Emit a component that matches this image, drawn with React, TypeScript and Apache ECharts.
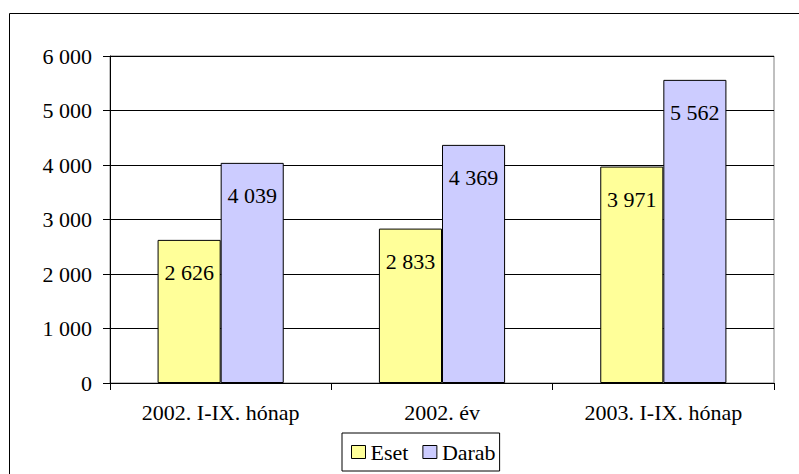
import React, { useEffect, useRef } from "react";
import * as echarts from "echarts";

const categories = ["2002. I-IX. hónap", "2002. év", "2003. I-IX. hónap"];
const eset = [2626, 2833, 3971];
const darab = [4039, 4369, 5562];
const seriesNames = ["Eset", "Darab"];

const fmt = (v: number) => {
  const s = String(Math.round(v));
  return s.replace(/\B(?=(\d{3})+(?!\d))/g, " ");
};

const FONT = "Liberation Serif";
const FS = 22;

export default function App() {
  const ref = useRef<HTMLDivElement>(null);
  useEffect(() => {
    if (!ref.current) return;
    const chart = echarts.init(ref.current, null, { renderer: "svg" });
    const label = {
      show: true,
      position: "insideTop" as const,
      distance: 22,
      color: "#000",
      fontSize: FS,
      fontFamily: FONT,
      formatter: (p: any) => fmt(p.value),
    };
    chart.setOption({
      animation: false,
      backgroundColor: "#fff",
      textStyle: { fontFamily: FONT },
      graphic: [
        {
          type: "rect",
          shape: { x: 9.5, y: 13.5, width: 820, height: 520 },
          style: { fill: "none", stroke: "#000", lineWidth: 1 },
          silent: true,
        },
      ],
      grid: {
        left: 110,
        right: 25,
        top: 56,
        bottom: 91,
        show: true,
        borderColor: "#808080",
        borderWidth: 1,
      },
      legend: {
        data: seriesNames,
        left: 342,
        top: 433,
        orient: "horizontal",
        itemWidth: 14,
        itemHeight: 13,
        itemGap: 14,
        borderColor: "#000",
        borderWidth: 1,
        padding: [8, 4, 8, 9],
        icon: "rect",
        textStyle: { fontSize: FS, color: "#000", fontFamily: FONT },
        itemStyle: { borderColor: "#000", borderWidth: 1 },
      },
      xAxis: {
        type: "category",
        data: categories,
        axisLine: { lineStyle: { color: "#000", width: 1 } },
        axisTick: { show: true, length: 7, lineStyle: { color: "#000" } },
        axisLabel: { color: "#000", fontSize: FS, fontFamily: FONT, margin: 18 },
      },
      yAxis: {
        type: "value",
        min: 0,
        max: 6000,
        interval: 1000,
        axisLine: { show: true, lineStyle: { color: "#000", width: 1 } },
        axisTick: { show: true, length: 7, lineStyle: { color: "#000" } },
        axisLabel: {
          color: "#000",
          fontSize: FS,
          fontFamily: FONT,
          margin: 18,
          formatter: (v: number) => fmt(v),
        },
        splitLine: { show: true, lineStyle: { color: "#000", width: 1 } },
      },
      series: [
        {
          name: seriesNames[0],
          type: "bar",
          data: eset,
          barGap: "0%",
          barCategoryGap: "43%",
          itemStyle: { color: "#FFFF99", borderColor: "#000", borderWidth: 1 },
          label,
        },
        {
          name: seriesNames[1],
          type: "bar",
          data: darab,
          barGap: "0%",
          barCategoryGap: "43%",
          itemStyle: { color: "#CCCCFF", borderColor: "#000", borderWidth: 1 },
          label,
        },
      ],
    });
    return () => chart.dispose();
  }, []);
  return (
    <div
      ref={ref}
      style={{ position: "fixed", left: 0, top: 0, width: 799, height: 474 }}
    />
  );
}
